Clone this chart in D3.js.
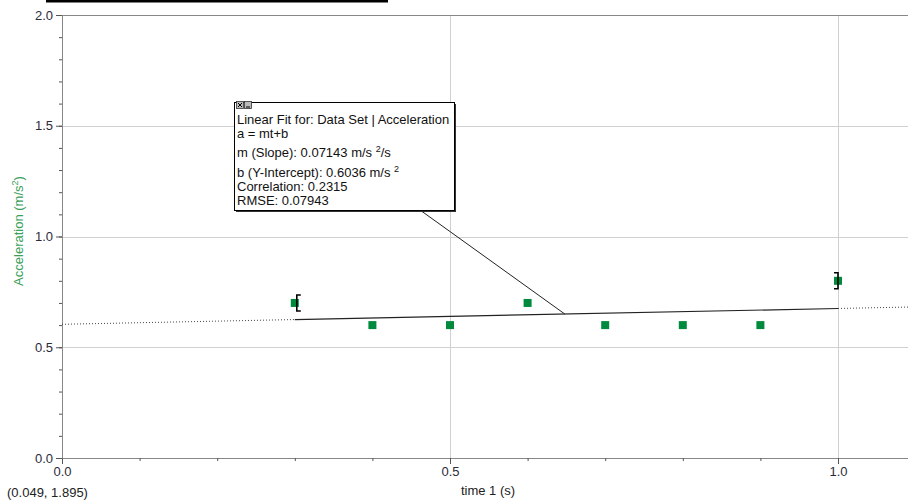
<!DOCTYPE html>
<html>
<head>
<meta charset="utf-8">
<script src="https://cdn.jsdelivr.net/npm/d3@7"></script>
<style>
  body { margin: 0; background: #fff; }
  svg { display: block; font-family: "Liberation Sans", Arial, sans-serif; }
</style>
</head>
<body>
<script>
'use strict';

// data
const times = [0.3, 0.4, 0.5, 0.6, 0.7, 0.8, 0.9, 1.0];
const accel = [0.7, 0.6, 0.6, 0.7, 0.6, 0.6, 0.6, 0.8];
const fitSlope = 0.07143;
const fitIntercept = 0.6036;
const fitRange = [0.3, 1.0];
const xMajorTicks = [0.0, 0.5, 1.0];
const yMajorTicks = [0.0, 0.5, 1.0, 1.5, 2.0];
const fitLines = [
  "Linear Fit for: Data Set | Acceleration",
  "a = mt+b",
  "m (Slope): 0.07143 m/s \u00B2/s",
  "b (Y-Intercept): 0.6036 m/s \u00B2",
  "Correlation: 0.2315",
  "RMSE: 0.07943"
];

const width = 908, height = 502;
const svg = d3.select('body').append('svg')
  .attr('width', width)
  .attr('height', height);

// black bar at the very top
svg.append('rect')
  .attr('x', 46).attr('y', 0)
  .attr('width', 342).attr('height', 2.5)
  .attr('fill', '#000');

let xScale = d3.scaleLinear().domain([0, 1]).range([62, 838]);
let yScale = d3.scaleLinear().domain([0, 2]).range([458, 15]);
const xMax = xScale.invert(width);

// grid lines
svg.append('g')
  .selectAll('line')
  .data([0.5, 1.0])
  .enter().append('line')
  .attr('x1', d => xScale(d) + 0.5).attr('x2', d => xScale(d) + 0.5)
  .attr('y1', yScale(2)).attr('y2', yScale(0))
  .attr('stroke', '#d0d0d0');

svg.append('g')
  .selectAll('line')
  .data([0.5, 1.0, 1.5])
  .enter().append('line')
  .attr('x1', xScale(0)).attr('x2', width)
  .attr('y1', d => Math.round(yScale(d)) + 0.5).attr('y2', d => Math.round(yScale(d)) + 0.5)
  .attr('stroke', '#d0d0d0');

// top border
svg.append('line')
  .attr('x1', xScale(0)).attr('x2', width)
  .attr('y1', yScale(2) + 0.5).attr('y2', yScale(2) + 0.5)
  .attr('stroke', '#888');

// axes: minor ticks every 0.1, major with labels
const minorX = d3.range(0, 11).map(i => i / 10);
const minorY = d3.range(0, 21).map(i => i / 10);

function styleAxis(g) {
  g.select('.domain').attr('stroke', '#888');
  g.selectAll('.tick line').attr('stroke', '#555');
  g.selectAll('.tick text')
    .attr('fill', '#2b2b3a')
    .style('font-size', '13px')
    .style('font-family', '"Liberation Sans", Arial, sans-serif');
}

svg.append('g')
  .attr('transform', 'translate(0,' + yScale(0) + ')')
  .call(d3.axisBottom(xScale).tickValues(minorX).tickSize(3).tickFormat('').tickSizeOuter(0))
  .call(styleAxis)
  .select('.domain').attr('d', 'M' + xScale(0) + ',0.5H' + width);

svg.append('g')
  .attr('transform', 'translate(0,' + yScale(0) + ')')
  .call(d3.axisBottom(xScale).tickValues(xMajorTicks).tickSize(6).tickPadding(3).tickFormat(d3.format('.1f')))
  .call(styleAxis)
  .select('.domain').remove();

svg.append('g')
  .attr('transform', 'translate(' + xScale(0) + ',0)')
  .call(d3.axisLeft(yScale).tickValues(minorY).tickSize(3).tickFormat('').tickSizeOuter(0))
  .call(styleAxis);

svg.append('g')
  .attr('transform', 'translate(' + xScale(0) + ',0)')
  .call(d3.axisLeft(yScale).tickValues(yMajorTicks).tickSize(6).tickPadding(3).tickFormat(d3.format('.1f')))
  .call(styleAxis)
  .select('.domain').remove();

// axis titles
svg.append('text')
  .attr('x', 488)
  .attr('y', 495)
  .attr('text-anchor', 'middle')
  .style('font-size', '13px')
  .attr('fill', '#222')
  .text('time 1 (s)');

const yLabel = svg.append('text')
  .attr('transform', 'translate(23,231)rotate(-90)')
  .attr('text-anchor', 'middle')
  .style('font-size', '13px')
  .attr('fill', '#3aa05a');
yLabel.append('tspan').text('Acceleration (m/s');
yLabel.append('tspan').attr('dy', -5).style('font-size', '9px').text('2');
yLabel.append('tspan').attr('dy', 5).text(')');

svg.append('text')
  .attr('x', 7)
  .attr('y', 497)
  .style('font-size', '13px')
  .attr('fill', '#222')
  .text('(0.049, 1.895)');

// linear fit: dotted over the whole range, solid over the fitted range
const fit = t => fitIntercept + fitSlope * t;
const fitLine = d3.line()
  .x(d => xScale(d))
  .y(d => yScale(fit(d)));

svg.append('path')
  .datum([0, fitRange[0]])
  .attr('d', fitLine)
  .attr('stroke', '#444').attr('stroke-width', 1)
  .attr('stroke-dasharray', '1,2').attr('fill', 'none');

svg.append('path')
  .datum([fitRange[1], xMax])
  .attr('d', fitLine)
  .attr('stroke', '#444').attr('stroke-width', 1)
  .attr('stroke-dasharray', '1,2').attr('fill', 'none');

svg.append('path')
  .datum(fitRange)
  .attr('d', fitLine)
  .attr('stroke', '#222').attr('stroke-width', 1.2)
  .attr('fill', 'none');

// data points
svg.append('g')
  .selectAll('rect')
  .data(times)
  .enter().append('rect')
  .attr('x', d => xScale(d) - 4)
  .attr('y', (d, i) => yScale(accel[i]) - 4)
  .attr('width', 8).attr('height', 8)
  .attr('fill', '#008a3e');

// range brackets at ends of the fit range
function bracket(t, dir) {
  const i = times.indexOf(t);
  const cx = xScale(t) + (dir > 0 ? 2 : 0);
  const cy = yScale(accel[i]);
  svg.append('path')
    .attr('d', 'M' + (cx + 4 * dir) + ',' + (cy - 8) + 'H' + cx + 'V' + (cy + 8) + 'H' + (cx + 4 * dir))
    .attr('stroke', '#000').attr('stroke-width', 1.6).attr('fill', 'none');
}
bracket(fitRange[0], 1);
bracket(fitRange[1], -1);

// annotation box with leader line
const boxX = 234, boxY = 102, boxW = 220, boxH = 108;
const anchorT = 0.648;
svg.append('line')
  .attr('x1', 420).attr('y1', boxY + boxH)
  .attr('x2', xScale(anchorT)).attr('y2', yScale(fit(anchorT)))
  .attr('stroke', '#222');

svg.append('rect')
  .attr('x', boxX + 2).attr('y', boxY + 2)
  .attr('width', boxW).attr('height', boxH)
  .attr('fill', '#333');
svg.append('rect')
  .attr('x', boxX + 0.5).attr('y', boxY + 0.5)
  .attr('width', boxW).attr('height', boxH)
  .attr('fill', '#fff').attr('stroke', '#000');

// small close / minimise icons
[0, 1].forEach(k => {
  svg.append('rect')
    .attr('x', boxX + 2.5 + k * 8).attr('y', boxY - 0.5)
    .attr('width', 7).attr('height', 7)
    .attr('fill', '#bbb').attr('stroke', '#333').attr('stroke-width', 0.8);
});
svg.append('path')
  .attr('d', 'M' + (boxX + 4) + ',' + (boxY + 1) + 'l4,4M' + (boxX + 8) + ',' + (boxY + 1) + 'l-4,4')
  .attr('stroke', '#000').attr('stroke-width', 1);
svg.append('line')
  .attr('x1', boxX + 12).attr('x2', boxX + 16)
  .attr('y1', boxY + 5).attr('y2', boxY + 5)
  .attr('stroke', '#000');

const lineYs = [124, 138, 157, 177, 191, 205];
svg.append('g')
  .selectAll('text')
  .data(fitLines)
  .enter().append('text')
  .attr('x', boxX + 3)
  .attr('y', (d, i) => lineYs[i])
  .style('font-size', '13px')
  .attr('fill', '#111')
  .each(function (d) {
    const el = d3.select(this);
    const parts = d.split('\u00B2');
    parts.forEach((p, j) => {
      if (j > 0) {
        el.append('tspan').attr('dy', -5).style('font-size', '9px').text('2');
        el.append('tspan').attr('dy', 5).text(p);
      } else {
        el.append('tspan').text(p);
      }
    });
  });
</script>
</body>
</html>
